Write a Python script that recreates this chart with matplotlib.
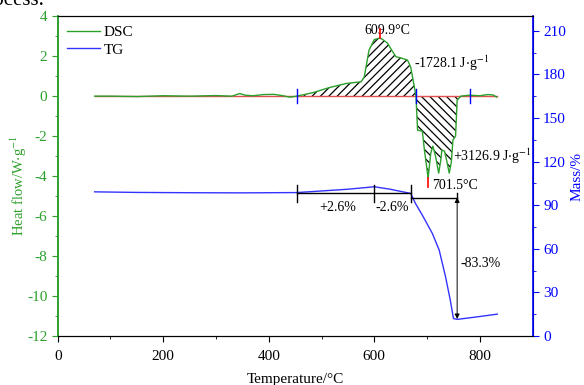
import matplotlib
matplotlib.use('Agg')
import matplotlib.pyplot as plt
from matplotlib.lines import Line2D
import numpy as np

plt.rcParams['font.family'] = ['Liberation Serif', 'DejaVu Serif']
plt.rcParams['mathtext.fontset'] = 'stix'
plt.rcParams['font.size'] = 10
plt.rcParams['axes.unicode_minus'] = False
plt.rcParams['hatch.linewidth'] = 0.9

# DSC curve (heat flow, W/g)
dsc_T = [70, 100, 150, 200, 250, 300, 330, 345, 355, 370, 390, 410, 425, 440, 453,
         483, 515, 546, 575, 581, 590, 600, 609.9, 615, 625, 633, 641, 652, 663, 669,
         675, 679, 682, 691, 695, 702, 707, 711, 716, 722, 726, 728, 733, 737, 742,
         746, 749, 754, 757, 764, 780, 800, 815, 825, 832]
dsc_v = [0, 0.0, -0.02, 0.02, 0.0, 0.03, 0.0, 0.13, 0.05, 0.02, 0.08, 0.09, 0.03, -0.05, 0,
         0.17, 0.43, 0.63, 0.72, 0.97, 2.3, 2.83, 2.9, 2.85, 2.65, 2.3, 1.97, 1.9, 1.8, 1.45,
         0.6, 0, -1.7, -1.75, -2.7, -4.1, -2.85, -2.5, -3.0, -3.85, -3.2, -2.7, -2.75, -3.2, -3.85,
         -3.3, -2.2, -2.0, -0.2, 0.0, 0.05, 0.02, 0.08, 0.06, -0.05]

# TG curve (mass, %)
tg_T = [70, 150, 250, 350, 453, 500, 550, 600, 630, 669, 678, 691, 710, 723, 735,
        744, 750, 757, 790, 833]
tg_m = [99.2, 98.8, 98.6, 98.5, 98.7, 99.8, 101.0, 102.7, 101.0, 98.1, 91.2, 83.2, 70.6, 59.1, 40.8,
        24.7, 12.1, 11.5, 13.0, 15.1]

# integration limits and peak positions
exo_range = (453, 679)
endo_range = (679, 781)
peak_exo = (609.9, 2.9)
peak_endo = (701.5, -4.1)

green = '#2ca02c'
blue = '#0000ff'

fig, ax = plt.subplots(figsize=(5.84, 3.85), dpi=100)
fig.subplots_adjust(left=0.0988, right=0.912, bottom=0.127, top=0.958)
ax2 = ax.twinx()

T = np.array(dsc_T, dtype=float)
v = np.array(dsc_v, dtype=float)

# baseline and DSC
ax.plot([dsc_T[0], dsc_T[-1]], [0, 0], color='#e05050', lw=1.0, zorder=2)
ax.plot(T, v, color=green, lw=1.0, zorder=3)

m1 = (T >= exo_range[0]) & (T <= exo_range[1])
ax.fill_between(T[m1], v[m1], 0, facecolor='none', edgecolor='black', hatch='////', lw=0, zorder=1)
m2 = (T >= endo_range[0]) & (T <= endo_range[1])
ax.fill_between(T[m2], v[m2], 0, facecolor='none', edgecolor='black', hatch='\\\\\\\\', lw=0, zorder=1)

for t in (exo_range[0], exo_range[1], endo_range[1]):
    ax.plot([t, t], [-0.35, 0.35], color=blue, lw=1.0, zorder=4)

ax.plot([peak_exo[0], peak_exo[0]], [peak_exo[1], peak_exo[1] + 0.45], color='red', lw=1.2, zorder=4)
ax.plot([peak_endo[0], peak_endo[0]], [peak_endo[1], peak_endo[1] - 0.45], color='red', lw=1.2, zorder=4)

ax.text(581, 3.3, '609.9\u00b0C', fontsize=10, va='center')
ax.text(675, 1.65, r'-1728.1 J$\cdot$g$^{-1}$', fontsize=10, va='center')
ax.text(749, -3.0, r'+3126.9 J$\cdot$g$^{-1}$', fontsize=10, va='center')
ax.text(710, -4.45, '701.5\u00b0C', fontsize=10, va='center')

# TG
ax2.plot(tg_T, tg_m, color='#3333ff', lw=1.0)
ax2.plot([453, 669], [98.1, 98.1], color='black', lw=1.0)
for t in (453, 600, 669):
    ax2.plot([t, t], [92.3, 103.7], color='black', lw=1.0)
ax2.plot([669, 757], [95.3, 95.3], color='black', lw=1.0)
ax2.plot([757, 757], [92.3, 98.3], color='black', lw=1.0)
ax2.annotate('', xy=(757, 11.8), xytext=(757, 95.3),
             arrowprops=dict(arrowstyle='<|-|>', color='black', lw=0.7, mutation_scale=7,
                             shrinkA=0, shrinkB=0))
ax2.text(530, 88.5, '+2.6%', ha='center', va='center', fontsize=10)
ax2.text(634, 88.5, '-2.6%', ha='center', va='center', fontsize=10)
ax2.text(764, 50, '-83.3%', ha='left', va='center', fontsize=10)

# axes
ax.set_xlim(0, 900)
ax.set_ylim(-12, 4)
ax2.set_ylim(0, 220)
ax.set_xticks([0, 200, 400, 600, 800])
ax.set_xticks(range(100, 900, 200), minor=True)
ax.set_yticks(range(-12, 5, 2))
ax.set_yticks(range(-11, 4, 2), minor=True)
ax2.set_yticks(range(0, 211, 30))
ax2.set_yticks(range(15, 220, 30), minor=True)

ax.spines['left'].set_color(green)
ax.spines['left'].set_linewidth(1.2)
ax2.spines['left'].set_color(green)
ax2.spines['left'].set_linewidth(1.2)
ax2.spines['right'].set_color(blue)
ax2.spines['right'].set_linewidth(1.2)
ax.tick_params(axis='y', colors=green, labelsize=11, length=4)
ax.tick_params(axis='y', which='minor', colors=green, length=2.5)
ax.tick_params(axis='x', labelsize=11, length=4, pad=6)
ax.tick_params(axis='x', which='minor', length=2.5)
ax2.tick_params(axis='y', colors=blue, labelsize=11, length=4)
ax2.tick_params(axis='y', which='minor', colors=blue, length=2.5)

ax.set_xlabel('Temperature/\u00b0C', fontsize=11, labelpad=7)
ax.set_ylabel(r'Heat flow/W$\cdot$g$^{-1}$', color=green, fontsize=10.5)
ax.yaxis.set_label_coords(-0.06, 0.47)
ax2.set_ylabel('Mass/%', color=blue, fontsize=11, labelpad=3)

handles = [Line2D([], [], color=green, lw=1.0), Line2D([], [], color='#3333ff', lw=1.0)]
ax.legend(handles, ['DSC', 'TG'], loc='upper left', frameon=False, fontsize=11,
          handlelength=2.2, handletextpad=0.2, labelspacing=0.25,
          bbox_to_anchor=(0.0, 1.0), borderaxespad=0.2)

fig.text(-0.04, 1.0, 'process.', fontsize=15, va='center', ha='left')

fig.savefig('out.png', dpi=100)
